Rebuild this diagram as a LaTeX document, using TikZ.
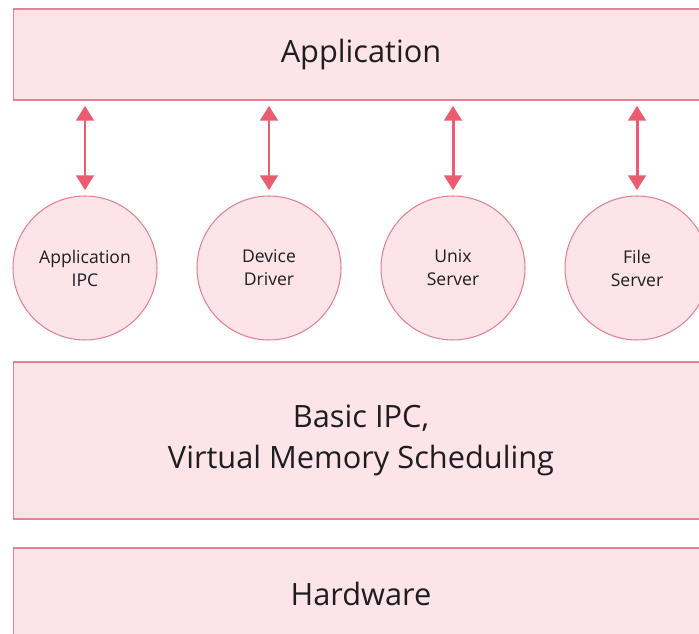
\documentclass[tikz,border=0pt]{standalone}
\usepackage{fontspec}
\setmainfont{Open Sans}
\usepackage{xcolor}
\usepackage{tikz}
\usetikzlibrary{arrows.meta}
\definecolor{layerfill}{RGB}{253, 228, 233}
\definecolor{layerline}{RGB}{226, 128, 148}
\definecolor{arrowred}{RGB}{236, 92, 112}
\definecolor{textdark}{RGB}{30, 30, 34}

\begin{document}
\begin{tikzpicture}[x=0.02cm,y=-0.02cm,
  layer/.style={draw=layerline,fill=layerfill,line width=0.6pt,inner sep=0pt,
    minimum width=13.92cm,text=textdark,font=\fontsize{17.5}{23.5}\selectfont,align=center},
  server/.style={circle,draw=layerline,fill=layerfill,line width=0.6pt,inner sep=0pt,
    minimum size=2.88cm,text=textdark,font=\fontsize{10}{13}\selectfont,align=center},
  link/.style={arrowred,line width=1.7pt,{Triangle[width=10pt,length=8.5pt]}-{Triangle[width=10pt,length=8.5pt]},
    shorten >=3pt,shorten <=3pt}]
\useasboundingbox (0,0) rectangle (699,634);
\begin{scope}
\clip (0,0) rectangle (699,634);
\fill[white] (0,0) rectangle (699,634);
% layers
\node[layer,minimum height=1.82cm] (app) at (361,54.5) {Application};
\node[layer,minimum height=3.14cm] (kernel) at (361,440.5) {Basic IPC,\\Virtual Memory Scheduling};
\node[layer,minimum height=1.82cm] (hw) at (361,593.5) {Hardware};
% servers
\node[server] (appipc) at (85,268) {Application\\IPC};
\node[server] (driver) at (269,268) {Device\\Driver};
\node[server] (unix) at (453,268) {Unix\\Server};
\node[server] (file) at (637,268) {File\\Server};
\foreach \s in {appipc,driver,unix,file}
  \draw[link] (app.south -| \s) -- (\s.north);
\end{scope}
\end{tikzpicture}
\end{document}
